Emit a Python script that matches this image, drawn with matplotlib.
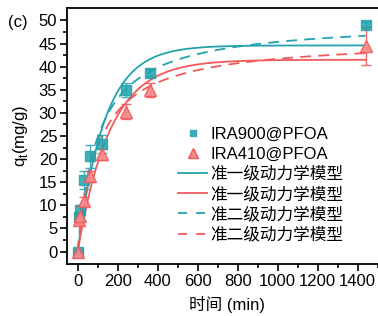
import numpy as np
import matplotlib
matplotlib.use("Agg")
import matplotlib.pyplot as plt
from matplotlib.lines import Line2D

plt.rcParams['font.family'] = ['Liberation Sans', 'Noto Sans CJK SC', 'DejaVu Sans']

# data
t_900 = [0, 5, 10, 30, 60, 120, 240, 360, 1440]
q_900 = [0, 7.5, 9.0, 15.5, 20.6, 23.3, 35.0, 38.7, 49.1]
e_900 = [0.3, 0.8, 1.0, 2.0, 2.5, 2.0, 1.5, 0.7, 0.5]

t_410 = [0, 5, 10, 30, 60, 120, 240, 360, 1440]
q_410 = [0, 6.8, 7.6, 10.9, 16.3, 21.0, 30.3, 35.0, 44.4]
e_410 = [0.3, 0.6, 0.8, 1.0, 1.2, 1.2, 1.6, 1.5, 4.1]

# fitted parameters
pfo_900 = dict(qe=44.6, k=0.0075)
pfo_410 = dict(qe=41.5, k=0.0062)
pso_900 = dict(qe=50.0, kq=0.0098)
pso_410 = dict(qe=46.0, kq=0.0097)

teal = '#23a3ad'
red = '#f25a5c'
FS = 12

fig = plt.figure(figsize=(3.78, 3.16), dpi=100)
ax = fig.add_axes([67/378, 52/316, 320/378, 256/316])

tt = np.linspace(0, 1440, 600)
def pfo(t, qe, k):
    return qe * (1 - np.exp(-k * t))
def pso(t, qe, kq):
    return qe * kq * t / (1 + kq * t)

ax.errorbar(t_900, q_900, yerr=e_900, fmt='s', ms=6.5, mfc=teal, mec=teal,
            color=teal, ecolor=teal, elinewidth=1, capsize=3.5, capthick=1, alpha=0.85, zorder=4)
ax.errorbar(t_410, q_410, yerr=e_410, fmt='^', ms=8, mfc='#f58a8b', mec=red,
            color=red, ecolor=red, elinewidth=1, capsize=3.5, capthick=1, alpha=0.9, zorder=4)

ax.plot(tt, pfo(tt, **pfo_900), color=teal, lw=1.3, zorder=3)
ax.plot(tt, pfo(tt, **pfo_410), color=red, lw=1.3, zorder=3)
ax.plot(tt, pso(tt, **pso_900), color=teal, lw=1.3, ls=(0, (6, 4)), zorder=3)
ax.plot(tt, pso(tt, **pso_410), color=red, lw=1.3, ls=(0, (6, 4)), zorder=3)

ax.set_xlim(-53.5, -53.5 + 320 / 0.2)
ax.set_ylim(-2.7, 52.7)
ax.set_xticks(np.arange(0, 1401, 200))
ax.set_xticks(np.arange(-0, 1501, 100), minor=True)
ax.set_yticks(np.arange(0, 51, 5))
ax.set_yticks(np.arange(0, 52, 2.5), minor=True)
ax.tick_params(which='both', direction='out', labelsize=FS, width=1.2, pad=2)
ax.tick_params(which='major', length=5)
ax.tick_params(which='minor', length=3)
for s in ax.spines.values():
    s.set_linewidth(1.3)

ax.set_xlabel('时间 (min)', fontsize=FS, labelpad=5)
ax.set_ylabel('q$_\\mathregular{t}$(mg/g)', fontsize=FS, labelpad=6)
fig.text(8/378, 1 - 22/316, '(c)', fontsize=FS, ha='left', va='center')

handles = [
    Line2D([], [], marker='s', ls='none', ms=5, mfc=teal, mec=teal, alpha=0.85),
    Line2D([], [], marker='^', ls='none', ms=7.5, mfc='#f58a8b', mec=red),
    Line2D([], [], color=teal, lw=1.3),
    Line2D([], [], color=red, lw=1.3),
    Line2D([], [], color=teal, lw=1.3, ls=(0, (5, 5))),
    Line2D([], [], color=red, lw=1.3, ls=(0, (5, 5))),
]
labels = ['IRA900@PFOA', 'IRA410@PFOA', '准一级动力学模型', '准一级动力学模型',
          '准二级动力学模型', '准二级动力学模型']
ax.legend(handles, labels, loc='upper left', bbox_to_anchor=(0.347, 0.535),
          frameon=False, fontsize=FS, handlelength=1.75, handletextpad=0.2,
          labelspacing=0.27, borderaxespad=0, borderpad=0)

fig.savefig('out.png', dpi=100)
